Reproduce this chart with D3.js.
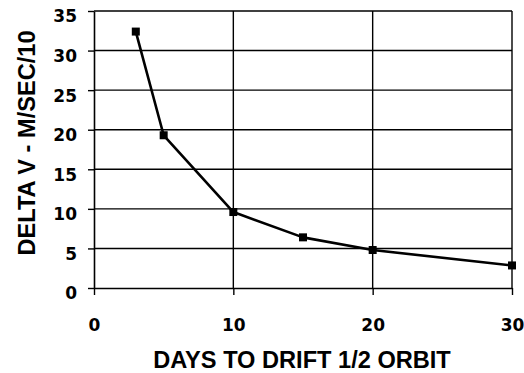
<!DOCTYPE html>
<html>
<head>
<meta charset="utf-8">
<script src="https://cdn.jsdelivr.net/npm/d3@7"></script>
<style>
  html, body { margin: 0; padding: 0; background: #fff; }
  svg { display: block; }
  text { font-family: "Liberation Sans", Arial, Helvetica, sans-serif; font-weight: bold; fill: #000; }
</style>
</head>
<body>
<svg id="chart" width="524" height="373"></svg>
<script>
// Days of drift vs. required delta-V
const days = [3, 5, 10, 15, 20, 30];
const deltaV = [32.4, 19.3, 9.6, 6.4, 4.8, 2.85];
const xTicks = [0, 10, 20, 30];
const yTicks = [0, 5, 10, 15, 20, 25, 30, 35];
const xTitle = "DAYS TO DRIFT 1/2 ORBIT";
const yTitle = "DELTA V - M/SEC/10";

const svg = d3.select("#chart");
const m = { left: 94, right: 12, top: 11, bottom: 85 };
const W = 524, H = 373;
const tickFont = "'DejaVu Sans', Verdana, sans-serif";

const x = d3.scaleLinear().domain([0, 30]).range([m.left, W - m.right]);
const y = d3.scaleLinear().domain([0, 35]).range([H - m.bottom, m.top]);

// horizontal grid lines
svg.append("g").selectAll("line").data(yTicks.filter(d => d > 0)).join("line")
  .attr("x1", x(0)).attr("x2", x(30))
  .attr("y1", d => y(d)).attr("y2", d => y(d))
  .attr("stroke", "#000").attr("stroke-width", 1.4);

// vertical grid lines
svg.append("g").selectAll("line").data(xTicks.filter(d => d > 0)).join("line")
  .attr("x1", d => x(d)).attr("x2", d => x(d))
  .attr("y1", y(0)).attr("y2", y(35))
  .attr("stroke", "#000").attr("stroke-width", 1.4);

// y axis
const yAxis = svg.append("g")
  .attr("transform", `translate(${x(0)},0)`)
  .call(d3.axisLeft(y).tickValues(yTicks).tickSize(6).tickPadding(11).tickSizeOuter(0));
yAxis.select(".domain").attr("stroke", "#000").attr("stroke-width", 1.6);
yAxis.selectAll(".tick line").attr("stroke", "#000").attr("stroke-width", 1.4);
yAxis.selectAll(".tick text")
  .attr("dy", "0.32em").attr("y", 5.5)
  .style("font-size", "17px").style("font-family", tickFont).style("font-weight", "bold");

// x axis
const xAxis = svg.append("g")
  .attr("transform", `translate(0,${y(0)})`)
  .call(d3.axisBottom(x).tickValues(xTicks).tickSize(7).tickPadding(24).tickSizeOuter(0));
xAxis.select(".domain").attr("stroke", "#000").attr("stroke-width", 1.6);
xAxis.selectAll(".tick line").attr("stroke", "#000").attr("stroke-width", 1.4);
xAxis.selectAll(".tick text")
  .style("font-size", "17px").style("font-family", tickFont).style("font-weight", "bold");

// the data line
const pts = days.map((d, i) => [d, deltaV[i]]);
svg.append("path")
  .datum(pts)
  .attr("fill", "none").attr("stroke", "#000").attr("stroke-width", 2.6)
  .attr("stroke-linejoin", "round")
  .attr("d", d3.line().x(d => x(d[0])).y(d => y(d[1])));

// square markers
const ms = 8;
svg.append("g").selectAll("rect").data(pts).join("rect")
  .attr("x", d => x(d[0]) - ms / 2).attr("y", d => y(d[1]) - ms / 2)
  .attr("width", ms).attr("height", ms).attr("fill", "#000");

// axis titles
svg.append("text")
  .attr("x", 302).attr("y", 368)
  .attr("text-anchor", "middle")
  .style("font-size", "23.6px")
  .text(xTitle);

svg.append("text")
  .attr("transform", "translate(35,143) rotate(-90)")
  .attr("text-anchor", "middle")
  .style("font-size", "23.6px")
  .text(yTitle);
</script>
</body>
</html>
